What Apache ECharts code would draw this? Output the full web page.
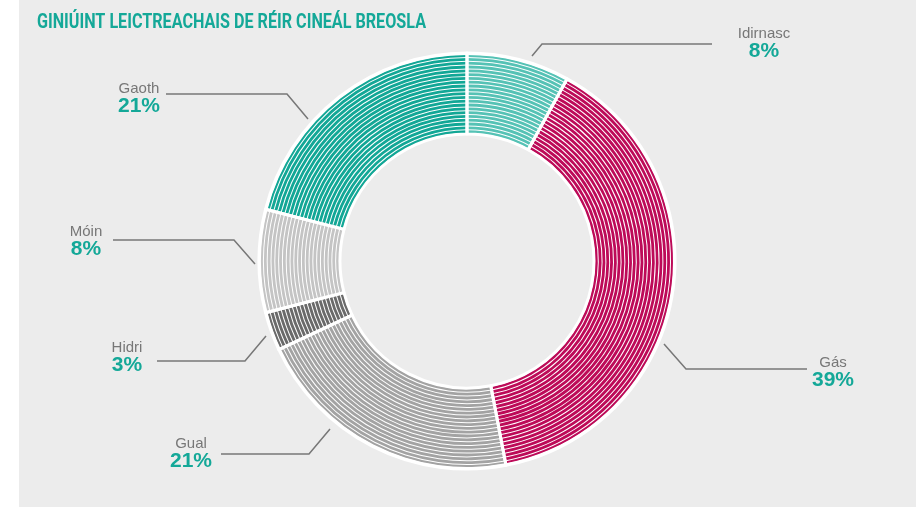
<!DOCTYPE html>
<html><head><meta charset="utf-8">
<script src="https://cdn.jsdelivr.net/npm/echarts@6/dist/echarts.min.js"></script>
<style>html,body{margin:0;padding:0;background:#fff}#c{width:916px;height:509px}</style>
</head><body><div id="c"></div>
<script>
const categories = ['Idirnasc', 'Gás', 'Gual', 'Hidri', 'Móin', 'Gaoth'];
const shares = [8, 39, 21, 3, 8, 21];
const titleText = 'GINIÚINT LEICTREACHAIS DE RÉIR CINEÁL BREOSLA';

// styling
const colors = ['#55c2b5', '#bd0a58', '#a3a3a3', '#6a6a6a', '#c4c4c4', '#12a796'];
const teal = '#14a898';
const labelPos = [
  {x: 764, y: 43, pts: [[532, 56], [542, 44], [712, 44]]},
  {x: 833, y: 372, pts: [[664, 344], [686, 369], [807, 369]]},
  {x: 191, y: 453, pts: [[330, 429], [309, 454], [221, 454]]},
  {x: 127, y: 357, pts: [[266, 336], [245, 361], [157, 361]]},
  {x: 86, y: 241, pts: [[255, 264], [234, 240], [113, 240]]},
  {x: 139, y: 98, pts: [[308, 119], [287, 94], [166, 94]]}
];
const center = [467, 261];
const innerR = 127, outerR = 208;
const stripeStart = 128, stripePitch = 3.8, stripeBand = 2.8, stripeCount = 21;

const data = categories.map((n, i) => ({name: n, value: shares[i], itemStyle: {color: colors[i]}}));

const series = [];
series.push({
  type: 'pie', silent: true, center: center, radius: [innerR, outerR],
  label: {show: false}, labelLine: {show: false},
  data: [{value: 1, itemStyle: {color: '#ffffff'}}], z: 1
});
for (let k = 0; k < stripeCount; k++) {
  const r0 = stripeStart + k * stripePitch;
  series.push({
    type: 'pie', silent: true, center: center, radius: [r0, Math.min(r0 + stripeBand, outerR - 2)],
    startAngle: 90, clockwise: true, avoidLabelOverlap: false,
    label: {show: false}, labelLine: {show: false},
    data: data, z: 2
  });
}
series.push({
  type: 'pie', silent: true, center: center, radius: [innerR, outerR],
  startAngle: 90, clockwise: true, avoidLabelOverlap: false, z: 3,
  itemStyle: {color: 'rgba(0,0,0,0)', borderColor: '#ffffff', borderWidth: 3},
  data: categories.map((n, i) => ({name: n, value: shares[i], itemStyle: {color: 'rgba(0,0,0,0)'}})),
  label: {
    show: true, position: 'outside',
    formatter: p => '{n|' + p.name + '}\n{p|' + p.value + '%}',
    rich: {
      n: {fontFamily: 'Liberation Sans', fontSize: 15, color: '#777777', lineHeight: 17, align: 'center'},
      p: {fontFamily: 'Liberation Sans', fontSize: 21, fontWeight: 'bold', color: teal, lineHeight: 18, align: 'center'}
    }
  },
  labelLine: {show: true, lineStyle: {color: '#777777', width: 1.5}},
  labelLayout: function (params) {
    const lp = labelPos[params.dataIndex];
    return {x: lp.x, y: lp.y, align: 'center', verticalAlign: 'middle', labelLinePoints: lp.pts};
  }
});

const titleFont = 'bold 20px Roboto';
const cv = document.createElement('canvas').getContext('2d');
cv.font = titleFont;
const tw = cv.measureText(titleText).width;
const sx = 389 / tw;

const chart = echarts.init(document.getElementById('c'), null, {renderer: 'canvas'});
chart.setOption({
  animation: false,
  graphic: [
    {type: 'rect', silent: true, z: -100, shape: {x: 19, y: 0, width: 897, height: 507}, style: {fill: '#ececec'}},
    {type: 'text', silent: true, x: 37, y: 13, scaleX: sx, z: 10,
     style: {text: titleText, fontFamily: 'Roboto', fontSize: 20, fontWeight: 'bold', fill: teal, verticalAlign: 'top'}}
  ],
  series: series
});
</script></body></html>
